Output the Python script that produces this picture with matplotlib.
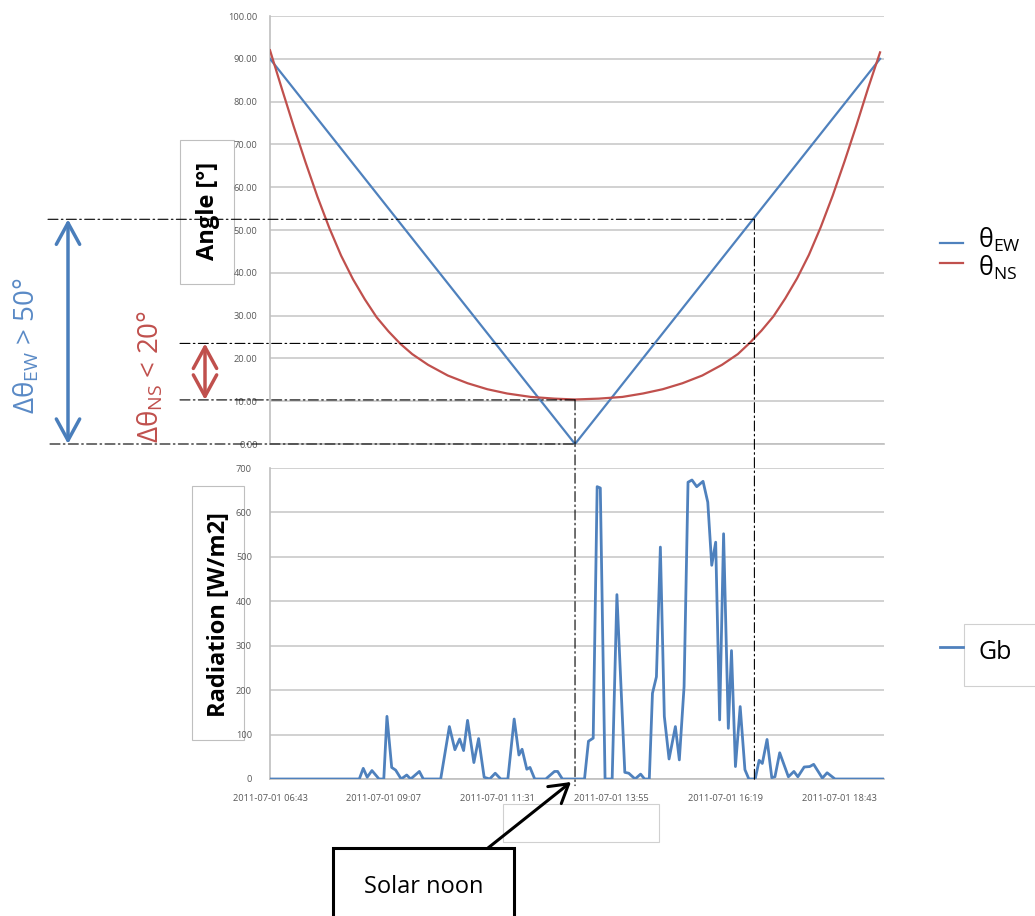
import matplotlib
matplotlib.use("Agg")
import matplotlib.pyplot as plt
import matplotlib.transforms as mtransforms
from matplotlib.patches import Rectangle, ConnectionPatch, FancyArrowPatch
from matplotlib.lines import Line2D

plt.rcParams['font.family'] = ['Open Sans', 'DejaVu Sans']
plt.rcParams['mathtext.fontset'] = 'custom'
plt.rcParams['mathtext.rm'] = 'Open Sans'
plt.rcParams['mathtext.it'] = 'Open Sans:italic'
plt.rcParams['mathtext.bf'] = 'Open Sans:bold'

# ---------------- data ----------------
date_label = "2011-07-01"
start_clock = "06:43"
tick_clocks = ["06:43", "09:07", "11:31", "13:55", "16:19", "18:43"]
end_clock = "19:40"

ew_times = ["06:43", "13:09", "19:35"]
ew_values = [90.0, 0.0, 90.0]

ns_times = ["06:43", "06:58", "07:13", "07:28", "07:43", "07:58", "08:13", "08:28",
            "08:43", "08:58", "09:13", "09:28", "09:43", "10:03", "10:28", "10:53",
            "11:18", "11:43", "12:13", "12:43", "13:09", "13:39", "14:09", "14:35",
            "15:00", "15:25", "15:50", "16:15", "16:35", "16:50", "17:05", "17:20",
            "17:35", "17:50", "18:05", "18:20", "18:35", "18:50", "19:05", "19:20",
            "19:35"]
ns_values = [92, 83, 74.2, 65.8, 57.8, 50.5, 44, 38.5,
             33.8, 29.6, 26.3, 23.4, 21, 18.5, 16, 14.2,
             12.8, 11.8, 11, 10.6, 10.4, 10.6, 11, 11.8,
             12.8, 14.2, 16, 18.5, 21, 23.6, 26.5, 29.8,
             34, 38.7, 44.2, 50.7, 58, 66, 74.4, 83.2,
             91.5]

gb_times = ["06:43", "08:36", "08:41", "08:46", "08:52", "09:01", "09:07", "09:11",
            "09:17", "09:22", "09:29", "09:36", "09:41", "09:52", "09:57", "10:19",
            "10:30", "10:37", "10:43", "10:48", "10:53", "11:01", "11:07", "11:14",
            "11:21", "11:28", "11:35", "11:44", "11:52", "11:58", "12:02", "12:08",
            "12:12", "12:18", "12:32", "12:43", "12:47", "12:53", "13:21", "13:26",
            "13:32", "13:37", "13:41", "13:47", "13:56", "14:02", "14:12", "14:17",
            "14:25", "14:32", "14:37", "14:43", "14:47", "14:52", "14:57", "15:02",
            "15:08", "15:16", "15:21", "15:27", "15:32", "15:37", "15:43", "15:51",
            "15:57", "16:02", "16:07", "16:12", "16:17", "16:23", "16:27", "16:32",
            "16:38", "16:44", "16:49", "16:57", "17:02", "17:06", "17:12", "17:18",
            "17:22", "17:28", "17:39", "17:46", "17:51", "17:59", "18:06", "18:11",
            "18:22", "18:28", "18:38", "19:40"]
gb_values = [0, 0, 24, 4, 19, 0, 0, 141,
             26, 20, 0, 9, 0, 17, 0, 0,
             118, 66, 90, 64, 132, 37, 91, 4,
             0, 13, 0, 0, 135, 54, 67, 22,
             26, 0, 0, 17, 17, 0, 0, 85,
             92, 658, 655, 0, 0, 415, 15, 13,
             0, 11, 0, 0, 193, 230, 522, 141,
             45, 118, 43, 208, 668, 673, 658, 670,
             623, 481, 533, 133, 552, 114, 289, 28,
             163, 21, 0, 0, 42, 35, 89, 3,
             5, 59, 5, 17, 5, 27, 28, 33,
             2, 14, 0, 0]

noon_clock = "13:09"
ann_clock = "16:56"
ew_spread_top = 52.5
ns_spread_top = 23.5
ns_spread_bottom = 10.3

# ---------------- helpers ----------------
W, H = 1035, 916


def to_min(s):
    h, m = map(int, s.split(":"))
    h0, m0 = map(int, start_clock.split(":"))
    return h * 60 + m - (h0 * 60 + m0)


def fx(x):
    return x / W


def fy(y):
    return 1 - y / H


BLUE = '#4F81BD'
RED = '#C0504D'
GRID = '#c9c9c9'
TICKC = '#595959'

fig = plt.figure(figsize=(W / 100, H / 100), dpi=100)
fig.patch.set_facecolor('white')

ax1 = fig.add_axes([fx(270), fy(444), (884 - 270) / W, (444 - 16) / H])
ax2 = fig.add_axes([fx(270), fy(779), (884 - 270) / W, (779 - 468) / H])

xmax = to_min(end_clock)
for ax in (ax1, ax2):
    ax.set_xlim(0, xmax)
    for s in ('top', 'right'):
        ax.spines[s].set_visible(False)
    for s in ('left', 'bottom'):
        ax.spines[s].set_color('#bfbfbf')
        ax.spines[s].set_linewidth(1.2)
    ax.grid(axis='y', color=GRID, lw=1.2)
    ax.set_axisbelow(True)
    ax.tick_params(length=0, labelsize=6.7, labelcolor=TICKC)

ax1.set_ylim(0, 100)
ax1.set_yticks(range(0, 101, 10))
ax1.set_yticklabels([f"{v:.2f}" for v in range(0, 101, 10)])
ax1.tick_params(axis='y', pad=9)
ax1.set_xticks([])

ax2.set_ylim(0, 700)
ax2.set_yticks(range(0, 701, 100))
ax2.tick_params(axis='y', pad=13)
ax2.set_xticks([to_min(c) for c in tick_clocks])
ax2.set_xticklabels([f"{date_label} {c}" for c in tick_clocks])
ax2.tick_params(axis='x', pad=11)

ax1.plot([to_min(t) for t in ew_times], ew_values, color=BLUE, lw=1.6, zorder=3)
ax1.plot([to_min(t) for t in ns_times], ns_values, color=RED, lw=1.6, zorder=3)
ax2.plot([to_min(t) for t in gb_times], gb_values, color=BLUE, lw=2.0, zorder=3,
         solid_joinstyle='round')

# ---------------- annotations ----------------
DASH = (0, (9, 3, 1.5, 3))
bl1 = mtransforms.blended_transform_factory(fig.transFigure, ax1.transData)
t_noon = to_min(noon_clock)
t_ann = to_min(ann_clock)


def hline(xfig, y, xdata):
    c = ConnectionPatch(xyA=(xfig, y), coordsA=bl1, xyB=(xdata, y), coordsB=ax1.transData,
                        color='black', lw=0.8, linestyle=DASH, zorder=6)
    fig.add_artist(c)


def vline(xdata, ytop, ybot):
    c = ConnectionPatch(xyA=(xdata, ytop), coordsA=ax1.transData, xyB=(xdata, ybot),
                        coordsB=ax2.transData, color='black', lw=0.8, linestyle=DASH, zorder=6)
    fig.add_artist(c)


hline(fx(48), ew_spread_top, t_ann)
hline(fx(180), ns_spread_top, t_ann)
hline(fx(180), ns_spread_bottom, t_noon)
hline(fx(50), 0, t_noon)
vline(t_ann, ew_spread_top, -5)
vline(t_noon, ns_spread_bottom, -15)

# double arrows
ax1.annotate('', xy=(fx(68), 0), xycoords=bl1, xytext=(fx(68), ew_spread_top), textcoords=bl1,
             arrowprops=dict(arrowstyle='<->,head_length=0.55,head_width=0.3', color='#4A7EBB',
                             lw=2.5, mutation_scale=28, shrinkA=0, shrinkB=0),
             annotation_clip=False)
ax1.annotate('', xy=(fx(205), ns_spread_bottom), xycoords=bl1, xytext=(fx(205), ns_spread_top),
             textcoords=bl1,
             arrowprops=dict(arrowstyle='<->,head_length=0.55,head_width=0.3', color=RED,
                             lw=2.5, mutation_scale=28, shrinkA=0, shrinkB=0),
             annotation_clip=False)

fig.text(fx(27), fy(346), r'$\mathrm{\Delta\theta_{EW}}$ > 50°', rotation=90, color='#5A8AC6',
         fontsize=20, ha='center', va='center')
fig.text(fx(151), fy(376), r'$\mathrm{\Delta\theta_{NS}}$ < 20°', rotation=90, color=RED,
         fontsize=20, ha='center', va='center')

# axis title boxes (behind the axes' tick labels)
fig.add_artist(Rectangle((fx(180), fy(284)), 54 / W, 144 / H, transform=fig.transFigure,
                         fc='white', ec='#bfbfbf', lw=0.8, zorder=-2))
fig.text(fx(208), fy(211), 'Angle [°]', rotation=90, fontsize=17, fontweight='bold',
         ha='center', va='center', zorder=-1)
fig.add_artist(Rectangle((fx(192), fy(740)), 52 / W, 254 / H, transform=fig.transFigure,
                         fc='white', ec='#bfbfbf', lw=0.8, zorder=-2))
fig.text(fx(219), fy(615), 'Radiation [W/m2]', rotation=90, fontsize=17, fontweight='bold',
         ha='center', va='center', zorder=-1)

# legends
fig.add_artist(Line2D([fx(940), fx(963)], [fy(243)] * 2, color=BLUE, lw=1.6))
fig.add_artist(Line2D([fx(940), fx(963)], [fy(263)] * 2, color=RED, lw=1.6))
fig.text(fx(978), fy(248), r'$\mathrm{\theta_{EW}}$', fontsize=18, ha='left', va='baseline')
fig.text(fx(978), fy(276), r'$\mathrm{\theta_{NS}}$', fontsize=18, ha='left', va='baseline')

fig.add_artist(Line2D([fx(940), fx(963)], [fy(647)] * 2, color=BLUE, lw=2.0))
fig.add_artist(Rectangle((fx(964), fy(686)), 80 / W, 62 / H, transform=fig.transFigure,
                         fc='white', ec='#d0d0d0', lw=0.8))
fig.text(fx(978), fy(659), 'Gb', fontsize=18, ha='left', va='baseline')

# empty box under axis
fig.add_artist(Rectangle((fx(503), fy(842)), 156 / W, 38 / H, transform=fig.transFigure,
                         fc='white', ec='#d0d0d0', lw=0.8, zorder=-2))

# solar noon box and arrow
fig.add_artist(Rectangle((fx(333), fy(930)), 181 / W, 82 / H, transform=fig.transFigure,
                         fc='white', ec='black', lw=2.2))
fig.text(fx(424), fy(893), 'Solar noon', fontsize=17, ha='center', va='baseline')
fig.add_artist(FancyArrowPatch((fx(488), fy(848)), (fx(571), fy(782)),
                               transform=fig.transFigure,
                               arrowstyle='->,head_length=0.5,head_width=0.3', color='black',
                               lw=2.2, mutation_scale=26, shrinkA=0, shrinkB=0, zorder=10))

fig.savefig('out.png', dpi=100)
